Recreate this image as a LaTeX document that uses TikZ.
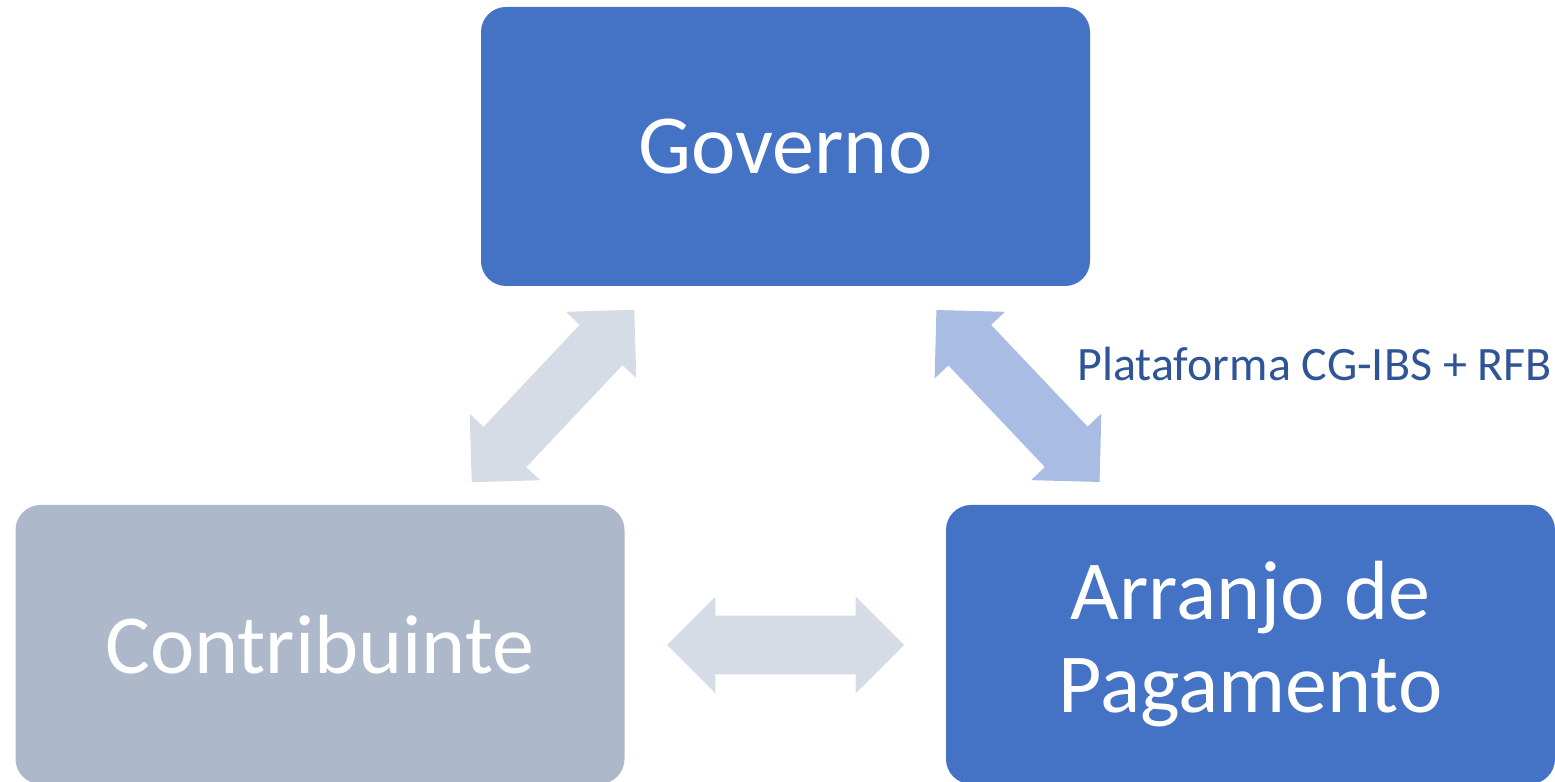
\documentclass[tikz,border=0pt]{standalone}
\usepackage{fontspec}
\setmainfont{Carlito}
\usetikzlibrary{shapes.arrows}
\definecolor{blocoazul}{HTML}{4472C4}
\definecolor{blococinza}{HTML}{ADB9CA}
\definecolor{setaclara}{HTML}{D6DCE5}
\definecolor{setaazul}{HTML}{A9BCE3}
\definecolor{rotulo}{HTML}{2F5597}
\begin{document}
\begin{tikzpicture}[x=0.5pt,y=0.5pt,
    bloco/.style={fill=blocoazul,rounded corners=12.5pt,
      minimum width=304.5pt, minimum height=139.5pt, text=white,
      align=center, font=\fontsize{42}{46.5}\selectfont},
    seta/.style={double arrow, fill=setaclara, inner sep=0pt,
      inner ysep=14.5pt, double arrow head extend=9.5pt,
      minimum height=118.5pt, outer sep=0pt},]
  \useasboundingbox (0,0) rectangle (1555,782);
  \node[bloco] (gov) at (785.5,635.5) {Governo};
  \node[bloco, fill=blococinza] (contrib) at (320,137.5) {Contribuinte};
  \node[bloco] (arranjo) at (1250.5,137.5) {Arranjo de\\Pagamento};
  \node[seta, rotate=46.7] (s1) at (553,386) {};
  \node[seta, rotate=-46.5, fill=setaazul] (s2) at (1018,386) {};
  \node[seta] (s3) at (785.5,137) {};
  \node[anchor=base west, inner sep=0pt, text=rotulo,
    font=\fontsize{24}{28}\selectfont] (plat) at (1077,401) {Plataforma CG-IBS + RFB};
\end{tikzpicture}
\end{document}
